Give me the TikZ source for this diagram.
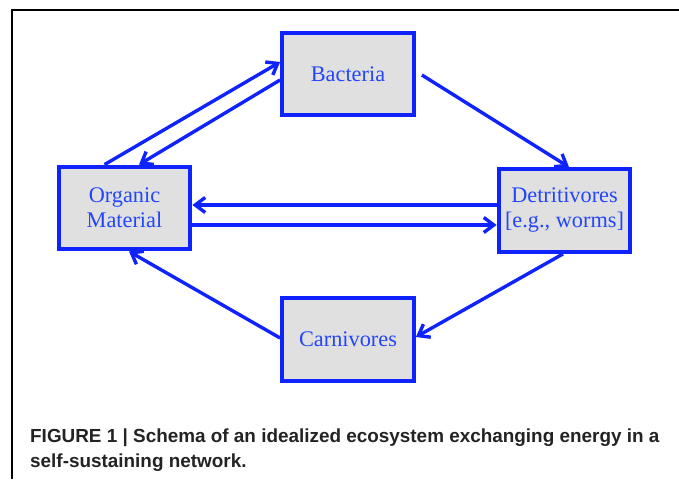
\documentclass[tikz,border=0pt]{standalone}
\usepackage{fontspec}
\setmainfont{Liberation Serif}
\newfontfamily\capfont{Liberation Sans}
\usetikzlibrary{arrows.meta,calc}
\definecolor{boxblue}{RGB}{15,35,255}
\definecolor{textblue}{RGB}{35,70,250}
\definecolor{boxfill}{RGB}{224,224,224}
\definecolor{captext}{RGB}{35,35,35}
\tikzset{
  eco/.style={draw=boxblue, line width=4.3pt, fill=boxfill, minimum width=131.5pt,
    minimum height=82.5pt, align=center, text=textblue,
    font=\fontsize{22.3}{25}\selectfont, inner sep=0pt},
  flow/.style={draw=boxblue, line width=3.4pt,
    -{Straight Barb[length=10pt,width=15pt,line width=3.4pt]}},
  captionline/.style={anchor=base west, inner sep=0pt, text=captext,
    font=\capfont\bfseries\fontsize{18.9}{25}\selectfont}
}
\begin{document}
\begin{tikzpicture}[x=1pt,y=-1pt]
\useasboundingbox (0,0) rectangle (679,479);
% frame
\coordinate (ftr) at (679,10);
\coordinate (ftl) at (12,10);
\coordinate (fbl) at (12,479);
\draw[line width=2.5pt] (ftr) -- (ftl) -- (fbl);
% boxes
\node[eco] (bac) at (348,74) {Bacteria};
\node[eco] (om) at (124.5,208) {Organic\\Material};
\node[eco] (det) at (564.5,210.5) {Detritivores\\{[}e.g., worms{]}};
\node[eco] (car) at (348,339.5) {Carnivores};
% arrows
\draw[flow] ([xshift=-20pt]om.north) -- ([yshift=12pt]bac.west);
\draw[flow] ([yshift=-6pt]bac.west) -- ([xshift=14.5pt]om.north);
\draw[flow] ([xshift=6pt,yshift=-1pt]bac.east) -- ([xshift=4.5pt]det.north);
\draw[flow] ([yshift=5.5pt]det.west) -- ([yshift=5.5pt]det.west -| om.east);
\draw[flow] ([yshift=-17pt]om.east) -- ([yshift=-17pt]om.east -| det.west);
\draw[flow] ([xshift=-1.5pt]det.south) -- ([yshift=2.5pt]car.east);
\draw[flow] ([yshift=1.5pt]car.west) -- ([xshift=4.5pt]om.south);
% caption
\node[captionline] (c1) at (30,442) {FIGURE 1 | Schema of an idealized ecosystem exchanging energy in a};
\node[captionline] (c2) at (30,467) {self-sustaining network.};
\end{tikzpicture}
\end{document}
